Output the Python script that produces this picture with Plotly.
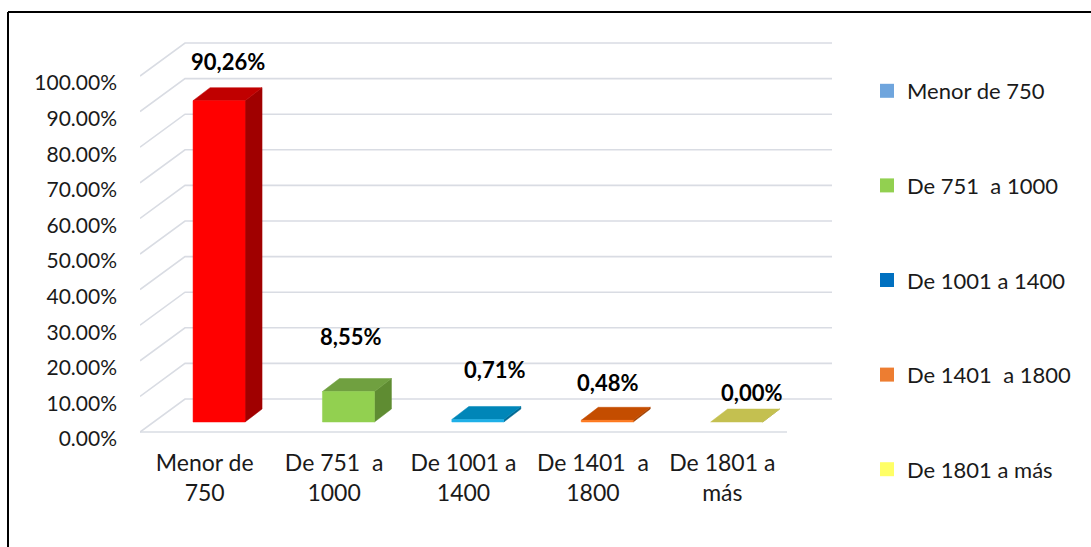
"""3D-style column chart (Excel look) rebuilt with Plotly."""

import plotly.graph_objects as go

# ---------------------------------------------------------------------------
# Data
# ---------------------------------------------------------------------------

CATEGORIES = ["Menor de 750", "De 751  a 1000", "De 1001 a 1400",
              "De 1401  a 1800", "De 1801 a más"]
TICK_LABELS = ["Menor de<br>750", "De 751  a<br>1000", "De 1001 a<br>1400",
               "De 1401  a<br>1800", "De 1801 a<br>más"]
VALUES = [90.26, 8.55, 0.71, 0.48, 0.00]
VALUE_LABELS = ["90,26%", "8,55%", "0,71%", "0,48%", "0,00%"]
Y_TICKS = [0, 10, 20, 30, 40, 50, 60, 70, 80, 90, 100]

# ---------------------------------------------------------------------------
# Styling
# ---------------------------------------------------------------------------

W, H = 1091, 547
M_L, M_R, M_T, M_B = 140, 256, 35, 108
PX_X = 129.4          # pixels per category slot
PX_Y = 3.56           # pixels per percentage point
PLOT_W = W - M_L - M_R
PLOT_H = H - M_T - M_B
X_MIN = -0.5
X_MAX = X_MIN + PLOT_W / PX_X
Y_MAX = PLOT_H / PX_Y

FRONT_LIFT = 7 / PX_Y            # front edge of floor above label baseline
WALL_DX, WALL_DY = 45 / PX_X, 33 / PX_Y
BAR_LIFT = 17 / PX_Y
BAR_X0, BAR_W = -0.09, 52 / PX_X
BAR_DX, BAR_DY = 17 / PX_X, 13 / PX_Y

LEGEND_COLORS = ["#6fa5dd", "#92d050", "#0070c0", "#ed7d31", "#ffff66"]
FACE_COLORS = [  # front, top, side
    ("#ff0000", "#c00000", "#a00000"),
    ("#92d050", "#70a040", "#5f8c32"),
    ("#1fb0e8", "#0086b8", "#006a94"),
    ("#ff7a1f", "#c44d00", "#a04000"),
    ("#d8d460", "#c4c050", "#a09c3c"),
]
LABEL_SHIFT = [(0, 26), (-6, 42), (8, 37), (-8, 25), (6, 17)]
GRID_COLOR = "#d9dce3"
TEXT_COLOR = "#1a1a1a"
FONT = "Lato, 'Open Sans', sans-serif"


def _paper_x(px: float) -> float:
    return (px - M_L) / PLOT_W


def _paper_y(py: float) -> float:
    return (H - M_B - py) / PLOT_H


def _poly(xs, ys, color):
    return go.Scatter(
        x=list(xs) + [xs[0]], y=list(ys) + [ys[0]],
        mode="lines", fill="toself", fillcolor=color,
        line=dict(color=color, width=0.5),
        hoverinfo="skip", showlegend=False,
    )


fig = go.Figure()

# back wall gridlines with the oblique floor edge
for v in Y_TICKS:
    yf = v + FRONT_LIFT
    fig.add_trace(go.Scatter(
        x=[X_MIN, X_MIN + WALL_DX, 4.5 + WALL_DX],
        y=[yf, yf + WALL_DY, yf + WALL_DY],
        mode="lines", line=dict(color=GRID_COLOR, width=1.6),
        hoverinfo="skip", showlegend=False,
    ))
fig.add_trace(go.Scatter(
    x=[X_MIN, 4.5], y=[FRONT_LIFT, FRONT_LIFT],
    mode="lines", line=dict(color=GRID_COLOR, width=1.6),
    hoverinfo="skip", showlegend=False,
))

# bars: front, top and side faces
for i, v in enumerate(VALUES):
    front, top, side = FACE_COLORS[i]
    x0 = i + BAR_X0
    x1 = x0 + BAR_W
    b = BAR_LIFT
    fig.add_trace(_poly([x1, x1 + BAR_DX, x1 + BAR_DX, x1],
                        [b, b + BAR_DY, b + v + BAR_DY, b + v], side))
    fig.add_trace(_poly([x0, x1, x1 + BAR_DX, x0 + BAR_DX],
                        [b + v, b + v, b + v + BAR_DY, b + v + BAR_DY], top))
    if v > 0:
        fig.add_trace(_poly([x0, x1, x1, x0], [b, b, b + v, b + v], front))
    dx, dy = LABEL_SHIFT[i]
    fig.add_annotation(
        x=x0 + BAR_W / 2 + BAR_DX / 2, y=b + v + BAR_DY,
        text=f"<b>{VALUE_LABELS[i]}</b>", showarrow=False,
        xshift=dx, yshift=dy, yanchor="middle",
        font=dict(size=22, color="#000000", family=FONT),
    )

# legend entries
for name, color in zip(CATEGORIES, LEGEND_COLORS):
    fig.add_trace(go.Scatter(
        x=[None], y=[None], mode="markers", name=name,
        marker=dict(symbol="square", size=14, color=color),
        legendgroup=name,
    ))

fig.update_layout(
    width=W, height=H,
    paper_bgcolor="#ffffff", plot_bgcolor="#ffffff",
    font=dict(family=FONT, size=21, color=TEXT_COLOR),
    margin=dict(l=M_L, r=M_R, t=M_T, b=M_B, autoexpand=False),
    xaxis=dict(
        range=[X_MIN, X_MAX], showgrid=False, zeroline=False, showline=False,
        tickvals=list(range(len(CATEGORIES))), ticktext=TICK_LABELS,
        ticks="", ticklabelstandoff=8, fixedrange=True,
        tickfont=dict(size=23),
    ),
    yaxis=dict(
        range=[0, Y_MAX], showgrid=False, zeroline=False, showline=False,
        tickvals=Y_TICKS, ticktext=[f"{t:.2f}%" for t in Y_TICKS],
        ticks="", ticklabelstandoff=22, fixedrange=True,
    ),
    legend=dict(
        x=_paper_x(867), y=_paper_y(70), xanchor="left", yanchor="top",
        tracegroupgap=63, font=dict(size=22, color=TEXT_COLOR),
        bgcolor="rgba(0,0,0,0)", maxheight=520,
    ),
    showlegend=True,
    shapes=[
        dict(type="line", xref="paper", yref="paper",
             x0=_paper_x(8), x1=_paper_x(8), y0=_paper_y(12), y1=_paper_y(H),
             line=dict(color="#000000", width=2)),
        dict(type="line", xref="paper", yref="paper",
             x0=_paper_x(8), x1=_paper_x(W), y0=_paper_y(12), y1=_paper_y(12),
             line=dict(color="#000000", width=2)),
    ],
)

fig.write_html(
    "out.html",
    config={"displayModeBar": False},
    post_script="document.body.style.margin = '0';",
)
